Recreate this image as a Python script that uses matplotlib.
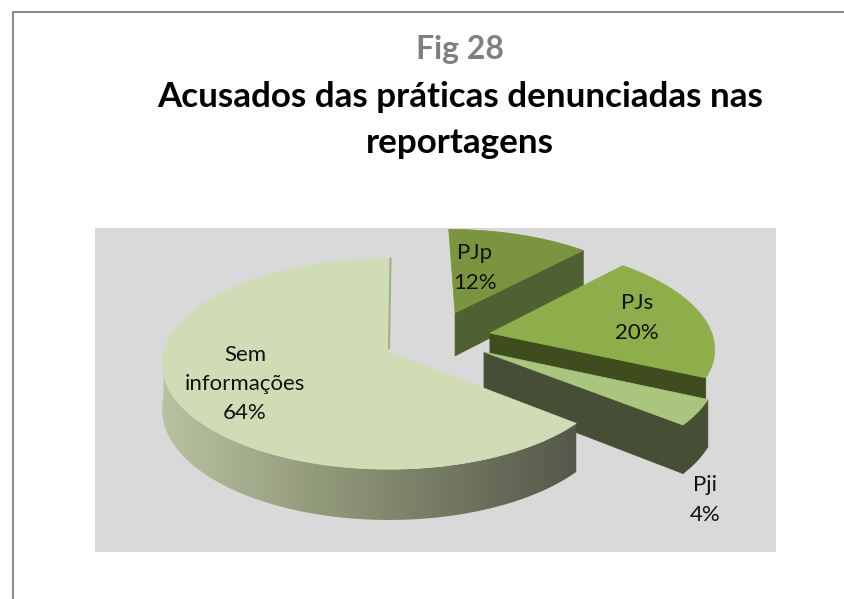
import numpy as np
import matplotlib
matplotlib.use('Agg')
import matplotlib.pyplot as plt
from matplotlib.colors import LinearSegmentedColormap
from matplotlib.patches import Polygon, Rectangle

plt.rcParams['font.family'] = ['Lato', 'DejaVu Sans']

# fatias no sentido horario a partir do topo
categorias = ['PJp', 'PJs', 'Pji', 'Sem\ninformações']
valores = [12, 20, 4, 64]
cor_topo = ['#7a9440', '#8eae4c', '#a9c57e', '#cfdcb6']
cor_lado = ['#4f6132', '#3f4c1d', '#464f35', '#8a9175']
# deslocamento de cada fatia no plano da pizza e raio
desloc = [(0.30, 0.386), (0.448, 0.182), (0.413, 0.0), (0.0, 0.0)]
raio = [0.95, 0.985, 1.0, 0.98]
pos_rotulo = [(475, 268), (637, 318), (705, 500), (245, 384)]

CX, CY = 389, 352
A, B, K, H = 230, 106, 0.116, 45


def proj(x, y, z=0.0):
    # perspectiva simples: y maior = mais longe
    w = 1 + K * y
    return CX + A * x / w, CY - (B * y - H * z) / w


def arco(i, t1, t2, z=0.0):
    t = np.radians(np.linspace(t1, t2, 80))
    dx, dy = desloc[i]
    return np.column_stack(proj(dx + raio[i] * np.cos(t), dy + raio[i] * np.sin(t), z))


fig = plt.figure(figsize=(8.44, 5.99), dpi=100)
ax = fig.add_axes([0, 0, 1, 1])
ax.axis('off')

# moldura e fundo do grafico
ax.plot([13, 13, 844], [599, 12, 12], color='#8c8c8c', lw=1.5)
ax.add_patch(Rectangle((95, 228), 681, 324, fc='#d9d9d9', ec='none'))

ax.text(460, 50, 'Fig 28', ha='center', va='center', fontsize=23, fontweight='bold', color='#7f7f7f')
ax.text(460, 97, 'Acusados das práticas denunciadas nas', ha='center', va='center',
        fontsize=25.2, fontweight='bold', color='black')
ax.text(460, 143, 'reportagens', ha='center', va='center', fontsize=25.2, fontweight='bold', color='black')

ang = 90.0
grad = LinearSegmentedColormap.from_list('lado', ['#b9c3a1', '#868d70', '#53574a'])
for i, v in enumerate(valores):
    t1, t2 = ang, ang - v * 3.6
    ang = t2
    dx, dy = desloc[i]
    centro = proj(dx, dy)
    centro_b = proj(dx, dy, 1)
    topo = arco(i, t1, t2)
    if i < 3:
        # corte da frente; arco externo so aparece na fatia Pji
        base = arco(i, t1, t2, 1)
        if i == 2:
            ax.add_patch(Polygon(np.vstack([topo, base[::-1]]), fc=cor_lado[i], ec=cor_lado[i], lw=0.5))
        ax.add_patch(Polygon([centro, topo[-1], base[-1], centro_b], fc=cor_lado[i], ec=cor_lado[i], lw=0.5))
    else:
        # a parte da frente do arco recebe o degrade
        lado = Polygon(np.vstack([arco(i, t1, -180), arco(i, t1, -180, 1)[::-1]]), fc='none', ec='none')
        ax.add_patch(lado)
        im = ax.imshow(np.linspace(0, 1, 256)[None, :], cmap=grad, aspect='auto',
                       extent=(159, 580, 530, 350), zorder=1)
        im.set_clip_path(lado)
        # parede estreita do corte junto ao topo
        ax.plot([topo[-1][0] + 1.5, centro[0]], [topo[-1][1], centro[1] - 4], color='#a3ad87', lw=1.5, zorder=2.5)
    ax.add_patch(Polygon(np.vstack([[centro], topo]), fc=cor_topo[i], ec=cor_topo[i], lw=0.5, zorder=2))

ax.set_xlim(0, 844)
ax.set_ylim(599, 0)

for nome, v, (x, y) in zip(categorias, valores, pos_rotulo):
    ax.text(x, y, f'{nome}\n{v}%', ha='center', va='center', fontsize=16, color='#111111',
            linespacing=1.59, zorder=5)

fig.savefig('out.png', dpi=100)
